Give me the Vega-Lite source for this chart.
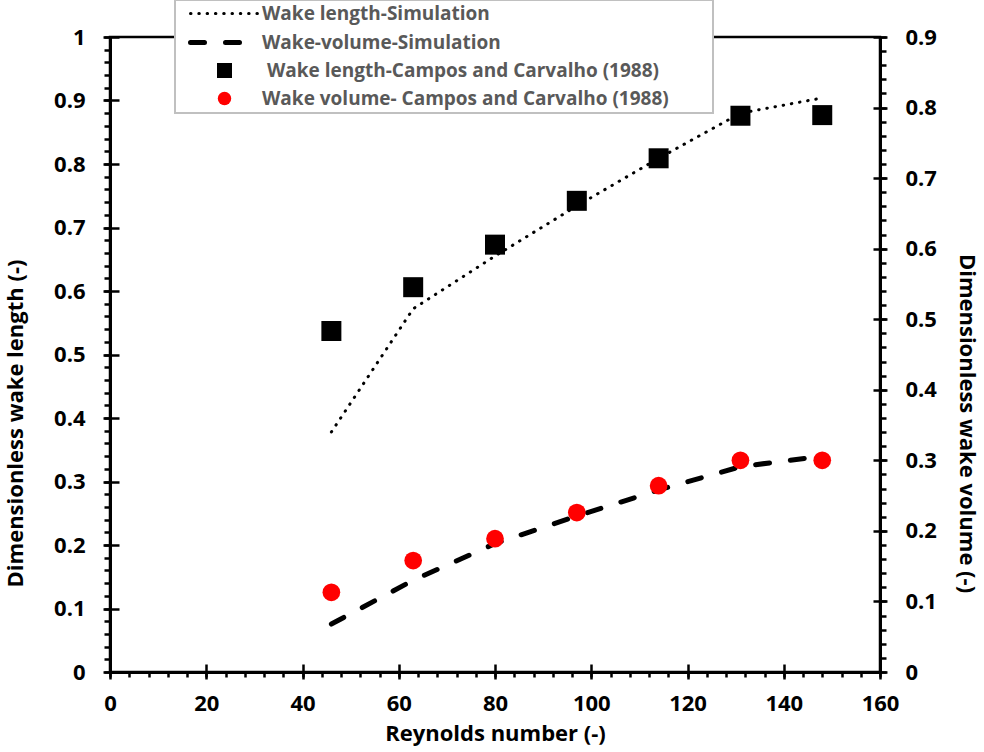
{
  "$schema": "https://vega.github.io/schema/vega-lite/v6.json",
  "autosize": {"type": "none"},
  "padding": {"left": 110, "top": 37, "right": 104, "bottom": 80},
  "width": 770,
  "height": 635,
  "background": "white",
  "config": {
    "font": "Open Sans",
    "view": {"stroke": "black", "strokeWidth": 2.5},
    "axis": {"grid": false, "tickColor": "black", "domainColor": "black", "labelColor": "black", "titleColor": "black", "labelFont": "Open Sans", "titleFont": "Open Sans", "labelFontWeight": "bold", "titleFontWeight": "bold", "labelFontSize": 22, "titleFontSize": 22, "tickWidth": 2.5, "domainWidth": 3, "labelOverlap": false, "labelFlush": false, "labelBound": false}
  },
  "data": {
    "values": [
      {"series": "Wake length-Simulation", "Re": 46, "value": 0.378},
      {"series": "Wake length-Simulation", "Re": 63, "value": 0.572},
      {"series": "Wake length-Simulation", "Re": 80, "value": 0.655},
      {"series": "Wake length-Simulation", "Re": 97, "value": 0.734},
      {"series": "Wake length-Simulation", "Re": 114, "value": 0.809},
      {"series": "Wake length-Simulation", "Re": 131, "value": 0.880},
      {"series": "Wake length-Simulation", "Re": 148, "value": 0.904},
      {"series": "Wake-volume-Simulation", "Re": 46, "value": 0.068},
      {"series": "Wake-volume-Simulation", "Re": 63, "value": 0.130},
      {"series": "Wake-volume-Simulation", "Re": 80, "value": 0.182},
      {"series": "Wake-volume-Simulation", "Re": 97, "value": 0.221},
      {"series": "Wake-volume-Simulation", "Re": 114, "value": 0.258},
      {"series": "Wake-volume-Simulation", "Re": 131, "value": 0.291},
      {"series": "Wake-volume-Simulation", "Re": 148, "value": 0.306},
      {"series": " Wake length-Campos and Carvalho (1988)", "Re": 46, "value": 0.537},
      {"series": " Wake length-Campos and Carvalho (1988)", "Re": 63, "value": 0.606},
      {"series": " Wake length-Campos and Carvalho (1988)", "Re": 80, "value": 0.673},
      {"series": " Wake length-Campos and Carvalho (1988)", "Re": 97, "value": 0.742},
      {"series": " Wake length-Campos and Carvalho (1988)", "Re": 114, "value": 0.809},
      {"series": " Wake length-Campos and Carvalho (1988)", "Re": 131, "value": 0.876},
      {"series": " Wake length-Campos and Carvalho (1988)", "Re": 148, "value": 0.877},
      {"series": "Wake volume- Campos and Carvalho (1988)", "Re": 46, "value": 0.113},
      {"series": "Wake volume- Campos and Carvalho (1988)", "Re": 63, "value": 0.158},
      {"series": "Wake volume- Campos and Carvalho (1988)", "Re": 80, "value": 0.189},
      {"series": "Wake volume- Campos and Carvalho (1988)", "Re": 97, "value": 0.226},
      {"series": "Wake volume- Campos and Carvalho (1988)", "Re": 114, "value": 0.264},
      {"series": "Wake volume- Campos and Carvalho (1988)", "Re": 131, "value": 0.300},
      {"series": "Wake volume- Campos and Carvalho (1988)", "Re": 148, "value": 0.300}
    ]
  },
  "resolve": {"scale": {"y": "independent"}, "axis": {"x": "independent", "y": "independent"}},
  "layer": [
    {
      "transform": [{"filter": "datum.series == 'Wake length-Simulation'"}],
      "mark": {"type": "line", "strokeDash": [0.5, 7.8], "strokeWidth": 3, "strokeCap": "round"},
      "encoding": {
        "x": {"field": "Re", "type": "quantitative", "scale": {"domain": [0, 160], "nice": false},
          "axis": {"orient": "bottom", "values": [0,4,8,12,16,20,24,28,32,36,40,44,48,52,56,60,64,68,72,76,80,84,88,92,96,100,104,108,112,116,120,124,128,132,136,140,144,148,152,156,160],
            "labelExpr": "datum.value % 20 == 0 ? format(datum.value, 'd') : ''",
            "title": "Reynolds number (-)", "tickSize": 5, "labelPadding": 16, "titlePadding": 9}},
        "y": {"field": "value", "type": "quantitative", "scale": {"domain": [0, 1], "nice": false},
          "axis": {"orient": "left", "values": [0,0.02,0.04,0.06,0.08,0.1,0.12,0.14,0.16,0.18,0.2,0.22,0.24,0.26,0.28,0.3,0.32,0.34,0.36,0.38,0.4,0.42,0.44,0.46,0.48,0.5,0.52,0.54,0.56,0.58,0.6,0.62,0.64,0.66,0.68,0.7,0.72,0.74,0.76,0.78,0.8,0.82,0.84,0.86,0.88,0.9,0.92,0.94,0.96,0.98,1],
            "labelExpr": "abs(datum.value*10 - round(datum.value*10)) < 0.001 ? format(datum.value, '.1~f') : ''",
            "title": "Dimensionless wake length (-)", "tickSize": 6, "labelPadding": 19, "titlePadding": 26, "titleY": 386}},
        "color": {"field": "series", "type": "nominal",
          "scale": {"domain": ["Wake length-Simulation", "Wake-volume-Simulation", " Wake length-Campos and Carvalho (1988)", "Wake volume- Campos and Carvalho (1988)"], "range": ["#000000", "#000000", "#000000", "#ff0000"]},
          "legend": {
            "orient": "none", "legendX": 65, "legendY": -37, "title": null,
            "padding": 4, "symbolOffset": 36, "labelOffset": 28, "rowPadding": 8,
            "labelFont": "Open Sans", "labelFontSize": 19, "labelFontWeight": "bold", "labelColor": "#595959", "labelLimit": 800,
            "symbolSize": 4624, "strokeColor": "#c0c0c0", "fillColor": "#ffffff",
            "labelExpr": "(datum.value == ' Wake length-Campos and Carvalho (1988)' ? '\u200b\u00a0' + trim(datum.label) : datum.label) + '\u00a0\u00a0\u00a0\u00a0\u00a0\u00a0\u00a0\u00a0\u200b'",
            "encode": {
              "legend": {"update": {"strokeWidth": {"value": 2}}},
              "symbols": {"update": {
                "shape": {"signal": "datum.value == 'Wake length-Simulation' || datum.value == 'Wake-volume-Simulation' ? 'stroke' : (datum.value == 'Wake volume- Campos and Carvalho (1988)' ? 'circle' : 'square')"},
                "size": {"signal": "datum.value == 'Wake length-Simulation' || datum.value == 'Wake-volume-Simulation' ? 4624 : (datum.value == 'Wake volume- Campos and Carvalho (1988)' ? 180 : 225)"},
                "strokeDash": {"signal": "datum.value == 'Wake length-Simulation' ? [0.5, 7.8] : (datum.value == 'Wake-volume-Simulation' ? [14, 21] : [1, 0])"},
                "strokeCap": {"value": "round"},
                "strokeWidth": {"signal": "datum.value == 'Wake length-Simulation' ? 3 : (datum.value == 'Wake-volume-Simulation' ? 5 : 0)"},
                "stroke": {"signal": "datum.value == 'Wake volume- Campos and Carvalho (1988)' ? '#ff0000' : '#000000'"},
                "fill": {"signal": "datum.value == 'Wake volume- Campos and Carvalho (1988)' ? '#ff0000' : (datum.value == ' Wake length-Campos and Carvalho (1988)' ? '#000000' : 'transparent')"},
                "opacity": {"value": 1}
              }}
            }
          }}
      }
    },
    {
      "transform": [{"filter": "datum.series == ' Wake length-Campos and Carvalho (1988)'"}],
      "mark": {"type": "point", "shape": "square", "filled": true, "size": 400, "opacity": 1},
      "encoding": {
        "x": {"field": "Re", "type": "quantitative",
          "axis": {"orient": "bottom", "values": [0,20,40,60,80,100,120,140,160], "labels": false, "domain": false, "title": null, "offset": -8, "tickSize": 15}},
        "y": {"field": "value", "type": "quantitative", "scale": {"domain": [0, 1], "nice": false},
          "axis": {"orient": "left", "values": [0,0.1,0.2,0.3,0.4,0.5,0.6,0.7,0.8,0.9,1], "labels": false, "domain": false, "title": null, "offset": -9, "tickSize": 16}},
        "color": {"field": "series", "type": "nominal"}
      }
    },
    {
      "transform": [{"filter": "datum.series == 'Wake-volume-Simulation'"}],
      "mark": {"type": "line", "strokeDash": [14, 21], "strokeWidth": 5, "strokeCap": "round"},
      "encoding": {
        "x": {"field": "Re", "type": "quantitative", "axis": null},
        "y": {"field": "value", "type": "quantitative", "scale": {"domain": [0, 0.9], "nice": false},
          "axis": {"orient": "right", "values": [0,0.02,0.04,0.06,0.08,0.1,0.12,0.14,0.16,0.18,0.2,0.22,0.24,0.26,0.28,0.3,0.32,0.34,0.36,0.38,0.4,0.42,0.44,0.46,0.48,0.5,0.52,0.54,0.56,0.58,0.6,0.62,0.64,0.66,0.68,0.7,0.72,0.74,0.76,0.78,0.8,0.82,0.84,0.86,0.88,0.9],
            "labelExpr": "abs(datum.value*10 - round(datum.value*10)) < 0.001 ? format(datum.value, '.1~f') : ''",
            "title": "Dimensionless wake volume (-)", "tickSize": 6, "labelPadding": 19, "titlePadding": 18, "titleY": 386}},
        "color": {"field": "series", "type": "nominal"}
      }
    },
    {
      "transform": [{"filter": "datum.series == 'Wake volume- Campos and Carvalho (1988)'"}],
      "mark": {"type": "point", "shape": "circle", "filled": true, "size": 314, "opacity": 1},
      "encoding": {
        "x": {"field": "Re", "type": "quantitative", "axis": null},
        "y": {"field": "value", "type": "quantitative", "scale": {"domain": [0, 0.9], "nice": false},
          "axis": {"orient": "right", "values": [0,0.1,0.2,0.3,0.4,0.5,0.6,0.7,0.8,0.9], "labels": false, "domain": false, "title": null, "offset": -7, "tickSize": 14}},
        "color": {"field": "series", "type": "nominal"}
      }
    }
  ]
}
